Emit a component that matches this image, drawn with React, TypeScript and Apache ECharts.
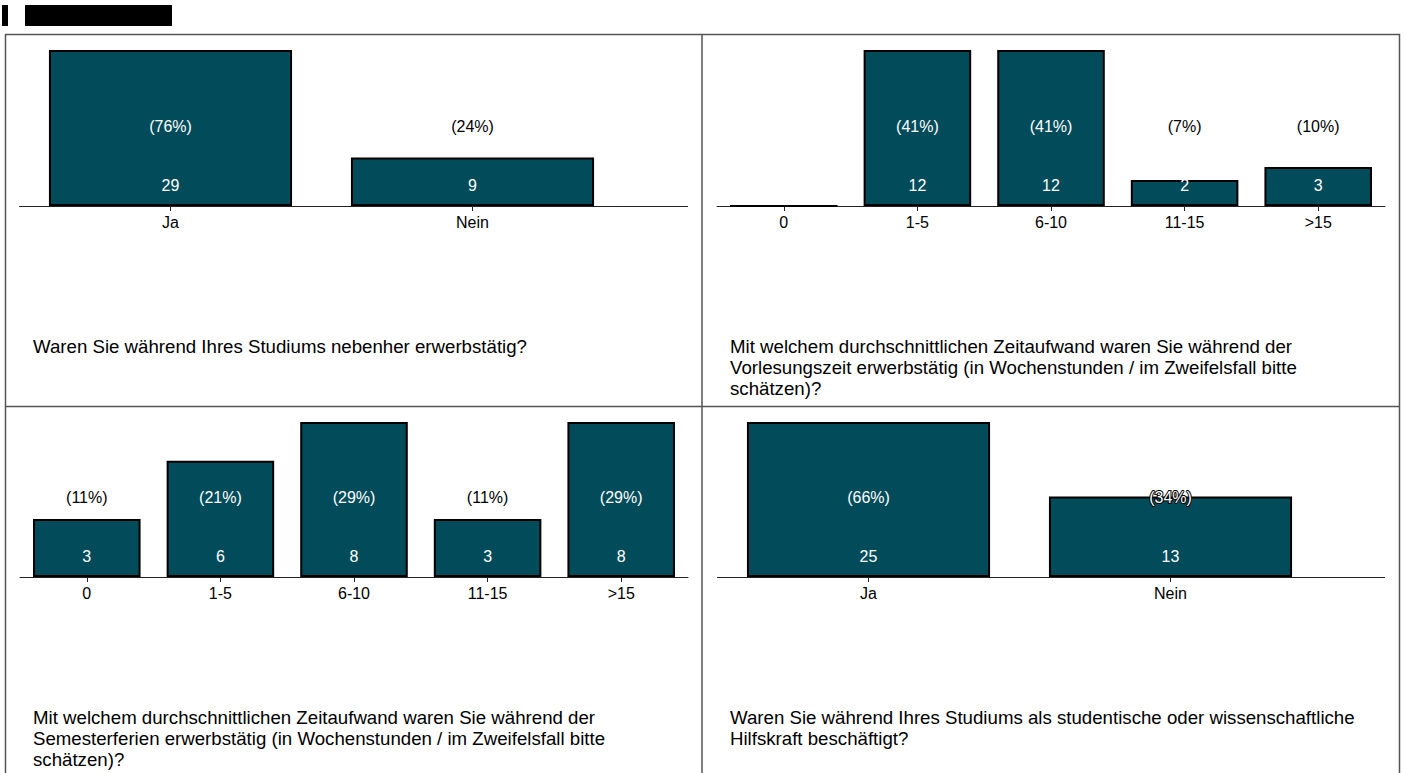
import React, { useEffect, useRef } from "react";
import * as echarts from "echarts";

const cats1 = ["Ja", "Nein"];
const vals1 = [29, 9];
const pct1 = [76, 24];

const cats2 = ["0", "1-5", "6-10", "11-15", ">15"];
const vals2 = [0, 12, 12, 2, 3];
const pct2 = [0, 41, 41, 7, 10];

const cats3 = ["0", "1-5", "6-10", "11-15", ">15"];
const vals3 = [3, 6, 8, 3, 8];
const pct3 = [11, 21, 29, 11, 29];

const cats4 = ["Ja", "Nein"];
const vals4 = [25, 13];
const pct4 = [66, 34];

const q1 = "Waren Sie während Ihres Studiums nebenher erwerbstätig?";
const q2 =
  "Mit welchem durchschnittlichen Zeitaufwand waren Sie während der\nVorlesungszeit erwerbstätig (in Wochenstunden / im Zweifelsfall bitte\nschätzen)?";
const q3 =
  "Mit welchem durchschnittlichen Zeitaufwand waren Sie während der\nSemesterferien erwerbstätig (in Wochenstunden / im Zweifelsfall bitte\nschätzen)?";
const q4 =
  "Waren Sie während Ihres Studiums als studentische oder wissenschaftliche\nHilfskraft beschäftigt?";

const FONT = '"Liberation Sans", Arial, sans-serif';
const BAR = "#024b5a";
const BORDER = "#555";

export default function App() {
  const ref = useRef<HTMLDivElement>(null);
  useEffect(() => {
    if (!ref.current) return;
    const chart = echarts.init(ref.current, undefined, { renderer: "svg" });

    const panels = [
      { cats: cats1, vals: vals1, pct: pct1, grid: { left: 19.5, top: 50, width: 604, height: 156 } },
      { cats: cats2, vals: vals2, pct: pct2, grid: { left: 717, top: 50, width: 668, height: 156 } },
      { cats: cats3, vals: vals3, pct: pct3, grid: { left: 20, top: 422, width: 668, height: 155 } },
      { cats: cats4, vals: vals4, pct: pct4, grid: { left: 717.5, top: 422, width: 604, height: 155 } },
    ];

    const pStyle = { fontSize: 16, fontFamily: FONT, lineHeight: 76 };
    const series = panels.map((p, i) => {
      const max = Math.max(...p.vals);
      return {
        type: "bar",
        xAxisIndex: i,
        yAxisIndex: i,
        data: p.vals,
        barCategoryGap: "19.5%",
        itemStyle: { color: BAR, borderColor: "#000", borderWidth: 2 },
        label: {
          show: true,
          position: "insideBottom",
          distance: 0,
          formatter: (prm: any) => {
            const v = p.vals[prm.dataIndex];
            if (!v) return "";
            const r = v / max;
            const st = r > 0.56 ? "pw" : r < 0.48 ? "pb" : "po";
            return `{${st}|(${p.pct[prm.dataIndex]}%)}\n{v|${v}}`;
          },
          rich: {
            pw: { ...pStyle, color: "#fff" },
            pb: { ...pStyle, color: "#000" },
            po: { ...pStyle, color: "#fff", textBorderColor: "#000", textBorderWidth: 2 },
            v: { fontSize: 16, fontFamily: FONT, lineHeight: 42, color: "#fff" },
          },
        },
      };
    });

    const line = (x1: number, y1: number, x2: number, y2: number, stroke = BORDER, w = 1.5) => ({
      type: "line",
      shape: { x1, y1, x2, y2 },
      style: { stroke, lineWidth: w },
      silent: true,
    });
    const text = (x: number, y: number, t: string) => ({
      type: "text",
      x,
      y,
      style: {
        text: t,
        fill: "#000",
        font: `18.67px ${FONT}`,
        lineHeight: 21,
        verticalAlign: "top",
        align: "left",
      },
    });

    chart.setOption({
      animation: false,
      grid: panels.map((p) => ({ ...p.grid, containLabel: false })),
      xAxis: panels.map((p, i) => ({
        type: "category",
        gridIndex: i,
        data: p.cats,
        axisLine: { show: true, lineStyle: { color: "#222", width: 1 } },
        axisTick: { show: true, alignWithLabel: true, length: 5, lineStyle: { color: "#222" } },
        axisLabel: { color: "#000", fontSize: 16, fontFamily: FONT, margin: 8 },
        splitLine: { show: false },
      })),
      yAxis: panels.map((p, i) => ({
        type: "value",
        gridIndex: i,
        min: 0,
        max: "dataMax",
        show: false,
        splitLine: { show: false },
      })),
      series,
      graphic: [
        { type: "rect", shape: { x: 2, y: 5, width: 6, height: 21 }, style: { fill: "#000" } },
        { type: "rect", shape: { x: 25, y: 5, width: 147, height: 21 }, style: { fill: "#000" } },
        line(5, 34.5, 1400, 34.5),
        line(5.5, 34, 5.5, 773),
        line(1399.5, 34, 1399.5, 773),
        line(702, 34, 702, 773),
        line(5, 406.5, 1400, 406.5),
        line(623.5, 206.5, 688, 206.5, "#222", 1),
        line(1321.5, 577.5, 1385, 577.5, "#222", 1),
        text(33, 336, q1),
        text(730, 336, q2),
        text(33, 707, q3),
        text(730, 707, q4),
      ],
    });
    return () => chart.dispose();
  }, []);
  return (
    <div
      ref={ref}
      style={{ position: "fixed", left: 0, top: 0, width: 1404, height: 773, background: "#fff" }}
    />
  );
}
